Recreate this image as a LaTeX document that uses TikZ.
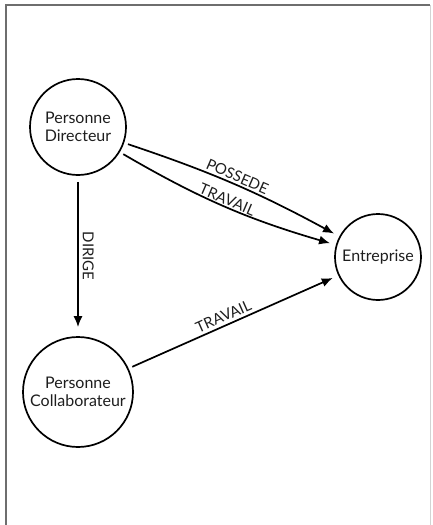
\documentclass[tikz,border=0pt]{standalone}
\usepackage{fontspec}
\setmainfont{Lato}
\usetikzlibrary{positioning,arrows.meta,calc}
\definecolor{framegray}{HTML}{6E6E6E}
\definecolor{inkgray}{HTML}{1E1E1E}

\tikzset{
  entity/.style={circle, draw, line width=1.7pt, inner sep=0pt, align=center,
    font=\fontsize{16}{18}\selectfont, text=inkgray},
  rel/.style={-{Latex[length=11pt,width=9pt]}, line width=1.7pt},
  rellabel/.style={font=\fontsize{15}{17}\selectfont, text=inkgray, sloped}
}

\begin{document}
\begin{tikzpicture}[x=1pt,y=-1pt]
    \useasboundingbox (0,0) rectangle (432,525);
    \draw[framegray, line width=1.2pt] (6,525) -- (6,5) -- (430,5);
    \draw[framegray!30, line width=0.6pt] (430,5) -- (430,525);
    % entities
    \node[entity, minimum size=96pt] (dir) at (78,127) {Personne\\Directeur};
    \node[entity, minimum size=110pt] (col) at (78,392) {Personne\\Collaborateur};
    \node[entity, minimum size=86pt] (ent) at (378,257) {Entreprise};
    % relations
    \draw[rel, shorten <=4pt, shorten >=6pt, bend left=5] (dir.-19) to
      node[rellabel, above, inner sep=2pt] {POSSEDE} (ent.152);
    \draw[rel, shorten <=4pt, shorten >=6pt, bend right=7] (dir.-31) to
      node[rellabel, above, inner sep=1pt] {TRAVAIL} (ent.164);
    \draw[rel, shorten <=6pt, shorten >=9pt] (dir) --
      node[rellabel, above, inner sep=4pt] {DIRIGE} (col);
    \draw[rel, shorten <=4pt, shorten >=6pt] (col.25) --
      node[rellabel, above, pos=0.47, inner sep=3pt] {TRAVAIL} (ent.205);
\end{tikzpicture}
\end{document}
